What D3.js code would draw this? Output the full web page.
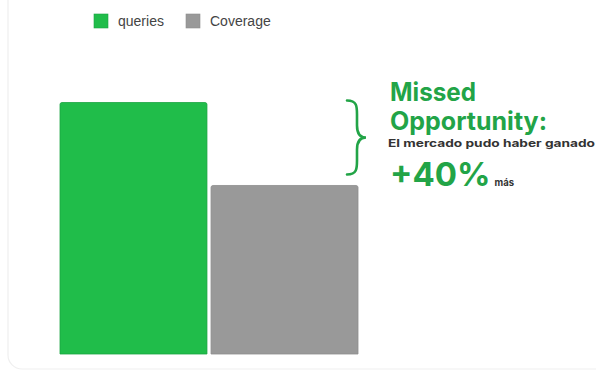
<!DOCTYPE html>
<html>
<head>
<meta charset="utf-8">
<script src="https://cdn.jsdelivr.net/npm/d3@7"></script>
<style>
  body { margin: 0; background: #fff; }
  svg { display: block; font-family: Roboto, "Noto Sans", sans-serif; }
</style>
</head>
<body>
<div id="chart"></div>
<script>
var svgWidth = 596;
var svgHeight = 374;

// data
var categories = ["queries", "Coverage"];
var values = [100, 67];
var colors = ["#20bd4a", "#999999"];
var strokes = ["#1ba443", "#8e8e8e"];

var svg = d3.select("#chart")
  .append("svg")
  .attr("width", svgWidth)
  .attr("height", svgHeight);

// faint card outline
svg.append("rect")
  .attr("x", 8)
  .attr("y", -20)
  .attr("width", 620)
  .attr("height", 389)
  .attr("rx", 14)
  .attr("fill", "none")
  .attr("stroke", "#efefef")
  .attr("stroke-width", 1.2);

var xScale = d3.scaleBand()
  .domain(categories)
  .range([60, 358])
  .paddingInner(0.027);

var yScale = d3.scaleLinear()
  .domain([0, 100])
  .range([354, 102.5]);

// bars
svg.selectAll(".bar")
  .data(categories)
  .enter()
  .append("path")
  .attr("class", "bar")
  .attr("d", function(d, i) {
    var x0 = xScale(d), x1 = x0 + xScale.bandwidth();
    var y0 = yScale(values[i]), y1 = yScale(0), r = 2;
    return "M" + x0 + "," + y1 + "V" + (y0 + r) + "Q" + x0 + "," + y0 + " " + (x0 + r) + "," + y0 +
      "H" + (x1 - r) + "Q" + x1 + "," + y0 + " " + x1 + "," + (y0 + r) + "V" + y1 + "Z";
  })
  .attr("fill", (d, i) => colors[i])
  .attr("stroke", (d, i) => strokes[i])
  .attr("stroke-width", 0.8);

// legend
var legend = svg.append("g").attr("transform", "translate(94, 14)");
var legendX = [0, 92];
categories.forEach(function(c, i) {
  var g = legend.append("g").attr("transform", "translate(" + legendX[i] + ",0)");
  g.append("rect")
    .attr("width", 14)
    .attr("height", 14)
    .attr("fill", colors[i])
    .attr("stroke", strokes[i])
    .attr("stroke-width", 0.6);
  g.append("text")
    .attr("x", 24)
    .attr("y", 12)
    .attr("font-family", "'Liberation Sans', Arial, sans-serif")
    .attr("font-size", 14)
    .attr("fill", "#444")
    .text(c);
});

// brace annotation
var green = "#22a447";
var bTop = yScale(values[0]) - 2;
var bBot = yScale(values[1]) - 11;
var bMid = (bTop + bBot) / 2;
var bx = 347, bw = 10;
var brace = d3.path();
brace.moveTo(bx, bTop);
brace.bezierCurveTo(bx + bw, bTop, bx + bw, bTop + 6, bx + bw, bTop + 14);
brace.lineTo(bx + bw, bMid - 12);
brace.bezierCurveTo(bx + bw, bMid - 3, bx + bw + 4, bMid, bx + bw + 9, bMid);
brace.bezierCurveTo(bx + bw + 4, bMid, bx + bw, bMid + 3, bx + bw, bMid + 12);
brace.lineTo(bx + bw, bBot - 14);
brace.bezierCurveTo(bx + bw, bBot - 6, bx + bw, bBot, bx, bBot);
svg.append("path")
  .attr("d", brace.toString())
  .attr("fill", "none")
  .attr("stroke", green)
  .attr("stroke-width", 2.6)
  .attr("stroke-linecap", "round");

var note = svg.append("g")
  .attr("font-weight", "bold")
  .attr("font-family", "Inter, sans-serif");
function noteText(x, y, size, fill, len, txt) {
  var t = note.append("text")
    .attr("x", x).attr("y", y)
    .attr("font-size", size).attr("fill", fill)
    .text(txt);
  if (len) {
    t.attr("textLength", len).attr("lengthAdjust", "spacingAndGlyphs");
  }
  return t;
}
noteText(390, 101, 25, green, 86, "Missed");
noteText(390, 130, 25, green, 157, "Opportunity:");
noteText(388, 147, 10.5, "#333", 207, "El mercado pudo haber ganado");
var big = noteText(390, 186, 33, green, null, "+40%");
var bigEnd = 390 + big.node().getComputedTextLength();
noteText(bigEnd + 4, 186, 9.5, "#333", null, "más");
</script>
</body>
</html>
